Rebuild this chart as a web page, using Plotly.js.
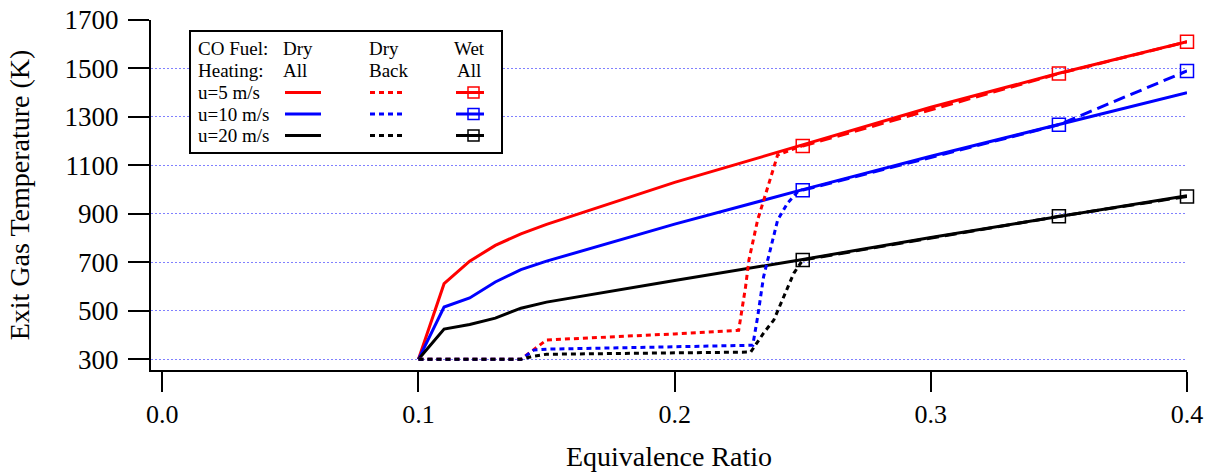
<!DOCTYPE html>
<html>
<head>
<meta charset="utf-8">
<script src="https://cdn.plot.ly/plotly-3.0.1.min.js"></script>
<style>
html,body{margin:0;padding:0;background:#fff;}
#chart{width:1210px;height:472px;}
</style>
</head>
<body>
<div id="chart"></div>
<script>
// ---- Data ----
var xDryAll = [0.10, 0.11, 0.12, 0.13, 0.14, 0.15, 0.20, 0.25, 0.30, 0.35, 0.40];
var tDryAll_u5  = [300, 612, 705, 770, 818, 857, 1030, 1186, 1340, 1480, 1610];
var tDryAll_u10 = [300, 516, 553, 619, 670, 705, 858, 1000, 1138, 1268, 1400];
var tDryAll_u20 = [300, 425, 444, 470, 511, 536, 625, 712, 803, 890, 975];

var xDryBack_u5  = [0.10, 0.14, 0.145, 0.15, 0.20, 0.225, 0.2277, 0.229, 0.2324, 0.2363, 0.2402, 0.25];
var tDryBack_u5  = [300, 300, 340, 380, 405, 420, 600, 710, 875, 1010, 1143, 1182];
var xDryBack_u10 = [0.10, 0.14, 0.145, 0.15, 0.2305, 0.2324, 0.2347, 0.2363, 0.2402, 0.2441, 0.2484, 0.25];
var tDryBack_u10 = [300, 300, 338, 342, 358, 475, 640, 710, 874, 945, 995, 1000];
var xDryBack_u20 = [0.10, 0.14, 0.145, 0.15, 0.2297, 0.2347, 0.2387, 0.2426, 0.2465, 0.2492, 0.25];
var tDryBack_u20 = [300, 300, 313, 321, 330, 408, 462, 557, 655, 697, 710];

var xWetAll = [0.25, 0.35, 0.40];
var tWetAll_u5  = [1180, 1479, 1610];
var tWetAll_u10 = [998, 1268, 1490];
var tWetAll_u20 = [710, 890, 972];

var xTicks = [0.0, 0.1, 0.2, 0.3, 0.4];
var yTicks = [300, 500, 700, 900, 1100, 1300, 1500, 1700];

var speedLabels = ['u=5 m/s', 'u=10 m/s', 'u=20 m/s'];
var colors = ['#ff0000', '#0000ff', '#000000'];

// ---- Layout geometry (pixels) ----
var W = 1210, H = 472;
var M = {l: 151, r: 23, t: 20, b: 102};
var pw = W - M.l - M.r, ph = H - M.t - M.b;
function px(x) { return (x - M.l) / pw; }
function py(y) { return (M.t + ph - y) / ph; }

var FONT = 'Liberation Serif, Times New Roman, serif';
var DOT = '5px,4px';
var DASH = '12px,6px';

var traces = [];
var dryAllT = [tDryAll_u5, tDryAll_u10, tDryAll_u20];
var dryBackX = [xDryBack_u5, xDryBack_u10, xDryBack_u20];
var dryBackT = [tDryBack_u5, tDryBack_u10, tDryBack_u20];
var wetT = [tWetAll_u5, tWetAll_u10, tWetAll_u20];

for (var i = 0; i < 3; i++) {
  traces.push({x: xDryAll, y: dryAllT[i], mode: 'lines', type: 'scatter',
    line: {color: colors[i], width: 3}, name: speedLabels[i] + ' Dry All', showlegend: false, cliponaxis: false});
}
for (var i = 0; i < 3; i++) {
  traces.push({x: dryBackX[i], y: dryBackT[i], mode: 'lines', type: 'scatter',
    line: {color: colors[i], width: 3, dash: DOT}, name: speedLabels[i] + ' Dry Back', showlegend: false, cliponaxis: false});
}
for (var i = 0; i < 3; i++) {
  traces.push({x: xWetAll, y: wetT[i], mode: 'lines+markers', type: 'scatter',
    line: {color: colors[i], width: 3, dash: DASH},
    marker: {symbol: 'square-open', size: 13, color: colors[i], line: {width: 1.5}},
    name: speedLabels[i] + ' Wet All', showlegend: false, cliponaxis: false});
}

// ---- Custom legend (paper coords) ----
var shapes = [];
var annotations = [];
shapes.push({type: 'rect', xref: 'paper', yref: 'paper',
  x0: px(190), x1: px(502), y0: py(153), y1: py(31),
  line: {color: '#000', width: 2}, fillcolor: '#fff', layer: 'above'});

function txt(t, x, y, anchor) {
  annotations.push({xref: 'paper', yref: 'paper', x: px(x), y: py(y), text: t, showarrow: false,
    xanchor: anchor || 'left', yanchor: 'middle', font: {family: FONT, size: 19, color: '#000'}});
}
var rowY = [48.5, 70.5, 92.5, 114, 135.5];
txt('CO Fuel:', 196, rowY[0]); txt('Heating:', 196, rowY[1]);
txt('Dry', 281, rowY[0]); txt('All', 281, rowY[1]);
txt('Dry', 367, rowY[0]); txt('Back', 367, rowY[1]);
txt('Wet', 469, rowY[0], 'center'); txt('All', 469, rowY[1], 'center');
for (var i = 0; i < 3; i++) {
  var yy = rowY[i + 2];
  txt(speedLabels[i], 196, yy);
  shapes.push({type: 'line', xref: 'paper', yref: 'paper', x0: px(285), x1: px(321), y0: py(yy), y1: py(yy),
    line: {color: colors[i], width: 3}, layer: 'above'});
  shapes.push({type: 'line', xref: 'paper', yref: 'paper', x0: px(370), x1: px(406), y0: py(yy), y1: py(yy),
    line: {color: colors[i], width: 3, dash: DOT}, layer: 'above'});
  shapes.push({type: 'line', xref: 'paper', yref: 'paper', x0: px(456), x1: px(484), y0: py(yy), y1: py(yy),
    line: {color: colors[i], width: 3}, layer: 'above'});
  shapes.push({type: 'rect', xref: 'paper', yref: 'paper', x0: px(468), x1: px(479), y0: py(yy + 5.5), y1: py(yy - 5.5),
    line: {color: colors[i], width: 1.5}, fillcolor: 'rgba(0,0,0,0)', layer: 'above'});
}

var layout = {
  width: W, height: H,
  margin: M,
  paper_bgcolor: '#fff', plot_bgcolor: '#fff',
  showlegend: false,
  font: {family: FONT, color: '#000'},
  xaxis: {
    range: [-0.0044, 0.4], tickvals: xTicks, tickformat: '.1f',
    showline: true, linecolor: '#000', linewidth: 2, mirror: false,
    ticks: 'outside', ticklen: 20, tickwidth: 2, tickcolor: '#000',
    showgrid: false, zeroline: false,
    tickfont: {family: FONT, size: 26, color: '#000'},
    title: {text: 'Equivalence Ratio', font: {family: FONT, size: 28, color: '#000'}, standoff: 18}
  },
  yaxis: {
    range: [256, 1700], tickvals: yTicks,
    showline: true, linecolor: '#000', linewidth: 2, mirror: false,
    ticks: 'outside', ticklen: 21, tickwidth: 2, tickcolor: '#000',
    ticklabelstandoff: 4,
    showgrid: true, gridcolor: '#8080ff', gridwidth: 1, griddash: '2px,2px',
    zeroline: false,
    tickfont: {family: FONT, size: 27, color: '#000'},
    title: {text: 'Exit Gas Temperature (K)', font: {family: FONT, size: 28, color: '#000'}, standoff: 27}
  },
  shapes: shapes,
  annotations: annotations
};

Plotly.newPlot('chart', traces, layout, {displayModeBar: false, staticPlot: true});
</script>
</body>
</html>
